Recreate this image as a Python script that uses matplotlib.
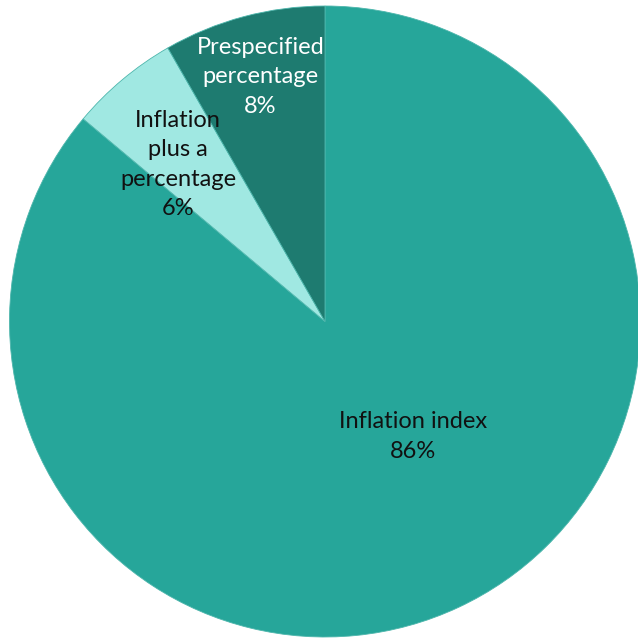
import matplotlib
matplotlib.use("Agg")
import matplotlib.pyplot as plt

categories = ["Inflation index", "Inflation\nplus a\npercentage", "Prespecified\npercentage"]
values = [86.1, 5.6, 8.3]
colors = ["#26A69A", "#A0E8E2", "#1E7B70"]
text_colors = ["#111111", "#111111", "#FFFFFF"]
label_pos = [(0.28, -0.365), (-0.465, 0.497), (-0.205, 0.775)]

plt.rcParams['font.family'] = ['Lato', 'DejaVu Sans']

fig = plt.figure(figsize=(6.38, 6.39), dpi=100)
r_px = 315.5
cx, cy = 325, 639 - 321.5
ax = fig.add_axes([(cx - r_px) / 638, (cy - r_px) / 639, 2 * r_px / 638, 2 * r_px / 639])
wedges, _ = ax.pie(values, colors=colors, startangle=90, counterclock=False,
                   wedgeprops=dict(edgecolor="#4DB6AC", linewidth=0.6), radius=1)
ax.set_xlim(-1, 1)
ax.set_ylim(-1, 1)
ax.set_aspect("auto")
ax.axis("off")

for txt, v, pos, tc in zip(categories, values, label_pos, text_colors):
    ax.text(pos[0], pos[1], f"{txt}\n{round(v):d}%", ha="center", va="center", fontsize=17,
            color=tc, linespacing=1.5)

fig.savefig("out.png", dpi=100)
